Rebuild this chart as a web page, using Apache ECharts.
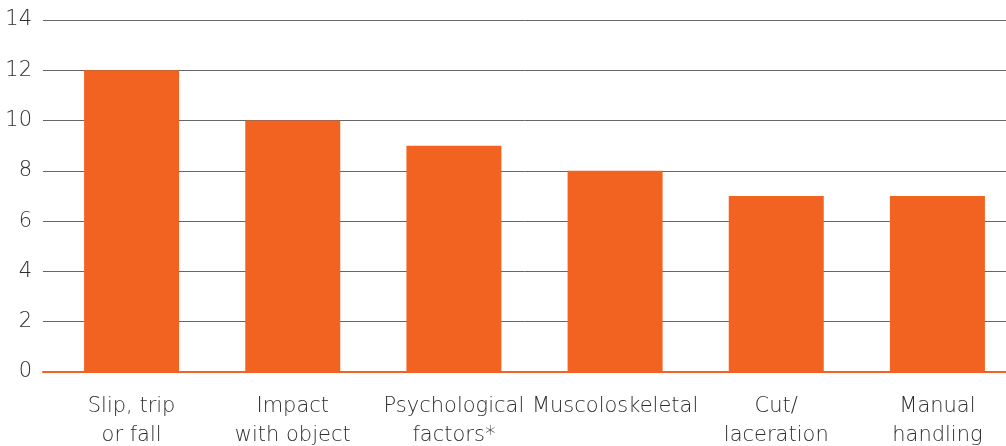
<!DOCTYPE html>
<html>
<head>
<meta charset="utf-8">
<script src="https://cdn.jsdelivr.net/npm/echarts@6/dist/echarts.min.js"></script>
<style>
  html, body { margin: 0; padding: 0; background: #fff; }
  #chart { width: 1006px; height: 446px; }
</style>
</head>
<body>
<div id="chart"></div>
<script>
const categories = ['Slip, trip\nor fall', 'Impact\nwith object', 'Psychological\nfactors*', 'Muscoloskeletal', 'Cut/\nlaceration', 'Manual\nhandling'];
const values = [12, 10, 9, 8, 7, 7];

const labelFont = { color: '#2e2e2e', fontFamily: 'DejaVu Sans', fontWeight: 200 };

const chart = echarts.init(document.getElementById('chart'));
chart.setOption({
    animation: false,
    grid: [
        // frame: gridlines, y labels, orange baseline
        { left: 43, right: 0, top: 20, bottom: 74, outerBoundsMode: 'none' },
        // bars and category labels
        { left: 51, width: 967, top: 20, bottom: 74, outerBoundsMode: 'none' }
    ],
    xAxis: [{
        gridIndex: 0,
        type: 'value',
        min: 0,
        max: 1,
        axisLine: { show: true, onZero: false, lineStyle: { color: '#f26322', width: 2 } },
        axisTick: { show: false },
        axisLabel: { show: false },
        splitLine: { show: false }
    }, {
        gridIndex: 1,
        type: 'category',
        data: categories,
        axisLine: { show: false },
        axisTick: { show: false },
        axisLabel: Object.assign({
            fontSize: 21,
            lineHeight: 29,
            margin: 20,
            interval: 0
        }, labelFont)
    }],
    yAxis: [{
        gridIndex: 0,
        type: 'value',
        min: 0,
        max: 14,
        interval: 2,
        axisLine: { show: false },
        axisTick: { show: false },
        splitLine: { lineStyle: { color: '#666', width: 1 } },
        axisLabel: Object.assign({ fontSize: 21, margin: 11 }, labelFont)
    }, {
        gridIndex: 1,
        type: 'value',
        min: 0,
        max: 14,
        interval: 2,
        show: false
    }],
    series: [{
        type: 'bar',
        xAxisIndex: 1,
        yAxisIndex: 1,
        data: values,
        barWidth: 95,
        itemStyle: { color: '#f26322' },
        z: 3
    }]
});
</script>
</body>
</html>
